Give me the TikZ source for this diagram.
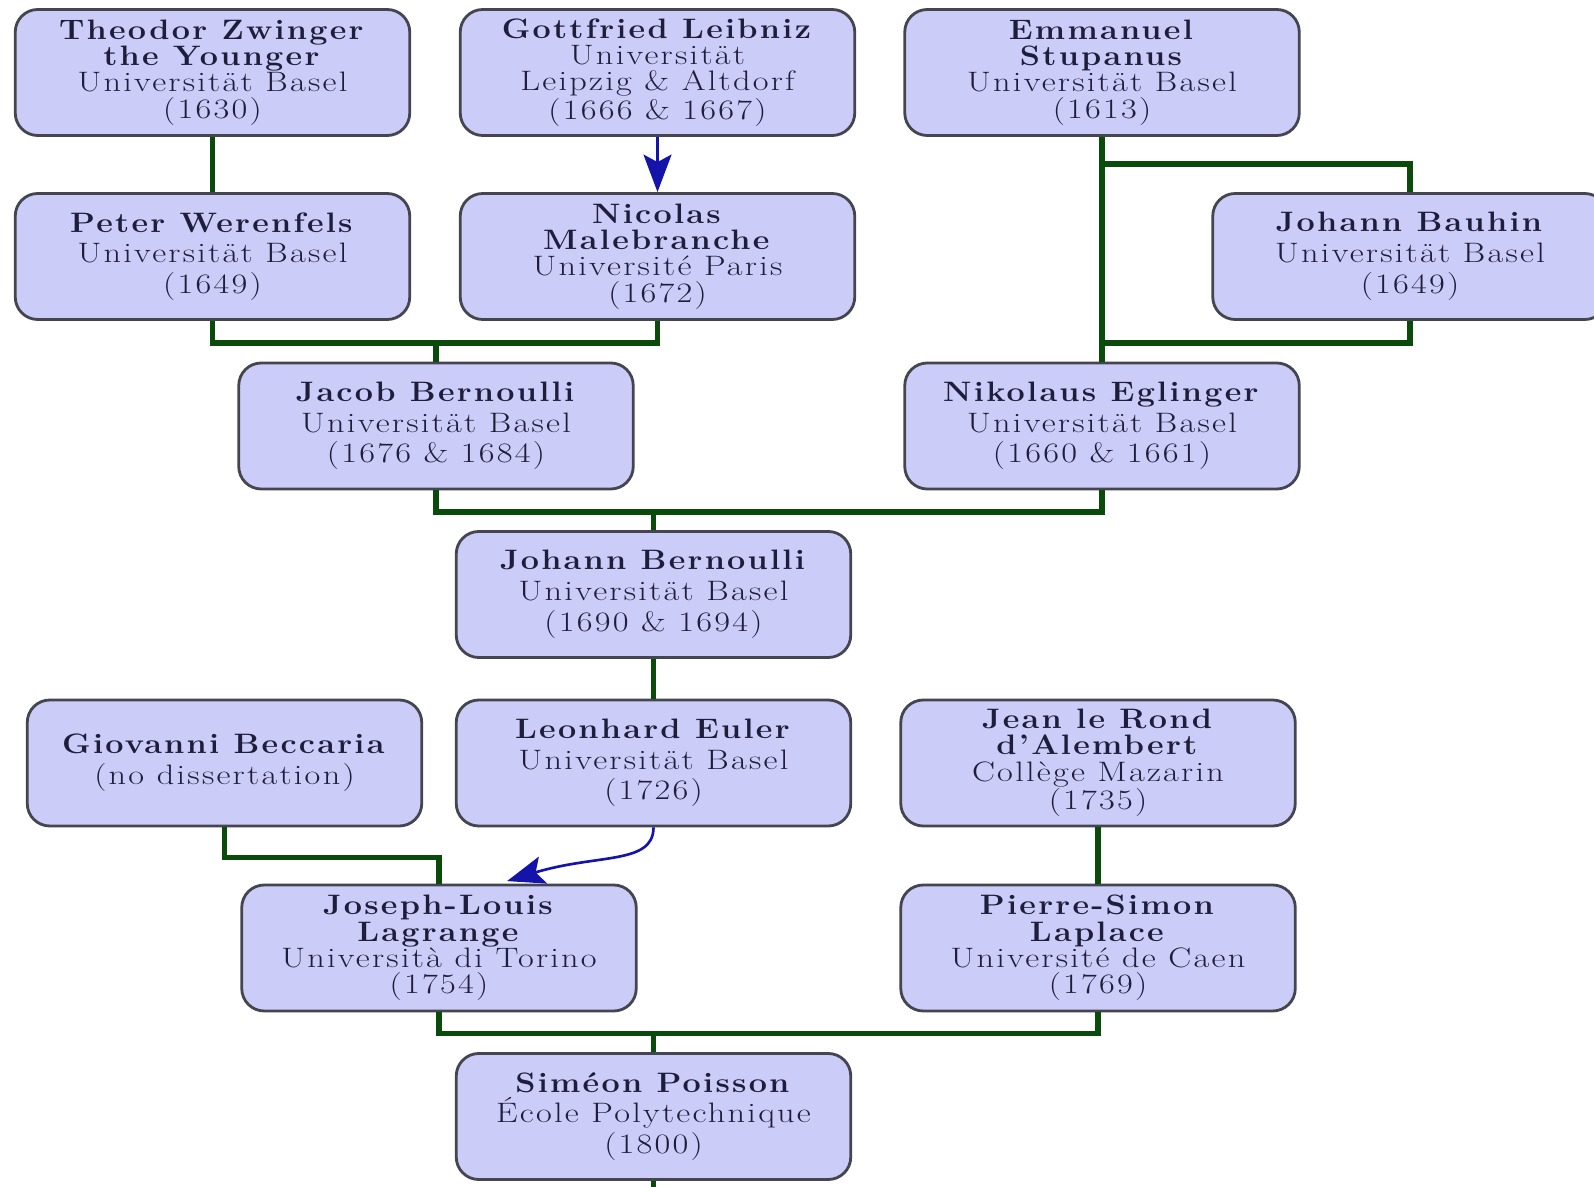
\documentclass[tikz,border=0pt]{standalone}
\usepackage{fontspec}
\setmainfont{Latin Modern Roman}[FakeStretch=1.22,LetterSpace=8,BoldFeatures={FakeStretch=1.15}]
\usetikzlibrary{calc, arrows.meta, positioning}
\definecolor{phdfill}{HTML}{CCCCF8}
\definecolor{phdedge}{HTML}{45454F}
\definecolor{phdtext}{HTML}{1E1E3C}
\definecolor{lineagegreen}{HTML}{0A4A0A}
\definecolor{advisorblue}{HTML}{1414AA}

\begin{document}
\begin{tikzpicture}[
        >={Stealth[length=7.5mm, width=5.6mm, inset=1.5mm]},
        person/.style={draw=phdedge, line width=1.6pt, fill=phdfill, rounded corners=0.45cm,
            minimum width=7.89cm, minimum height=2.52cm, align=center, text=phdtext,
            font=\fontsize{16}{17.5}\selectfont, inner sep=1pt},
        tight/.style={person, font=\fontsize{16}{15}\selectfont},
        lineage/.style={draw=lineagegreen, line width=3.2pt},
        advisor/.style={draw=advisorblue, line width=1.5pt, ->}
    ]
    % page frame
    \useasboundingbox (0,0) rectangle (31.88,23.72);

    % oldest generation
    \node[tight] (zwinger) at (4.25,22.27) {\textbf{Theodor Zwinger}\\\textbf{the Younger}\\Universität Basel\\(1630)};
    \node[tight] (leibniz) at (13.15,22.27) {\textbf{Gottfried Leibniz}\\Universität\\Leipzig \& Altdorf\\(1666 \& 1667)};
    \node[tight] (stupanus) at (22.04,22.27) {\textbf{Emmanuel}\\\textbf{Stupanus}\\Universität Basel\\(1613)};

    \node[person] (werenfels) at (4.25,18.59) {\textbf{Peter Werenfels}\\Universität Basel\\(1649)};
    \node[tight] (malebranche) at (13.15,18.59) {\textbf{Nicolas}\\\textbf{Malebranche}\\Université Paris\\(1672)};
    \node[person] (bauhin) at (28.20,18.59) {\textbf{Johann Bauhin}\\Universität Basel\\(1649)};

    \node[person] (jacob) at (8.72,15.20) {\textbf{Jacob Bernoulli}\\Universität Basel\\(1676 \& 1684)};
    \node[person] (eglinger) at (22.04,15.20) {\textbf{Nikolaus Eglinger}\\Universität Basel\\(1660 \& 1661)};

    \node[person] (johann) at (13.07,11.83) {\textbf{Johann Bernoulli}\\Universität Basel\\(1690 \& 1694)};

    \node[person] (beccaria) at (4.49,8.46) {\textbf{Giovanni Beccaria}\\(no dissertation)};
    \node[person] (euler) at (13.07,8.46) {\textbf{Leonhard Euler}\\Universität Basel\\(1726)};
    \node[tight] (dalembert) at (21.96,8.46) {\textbf{Jean le Rond}\\\textbf{d'Alembert}\\Collège Mazarin\\(1735)};

    \node[tight] (lagrange) at (8.78,4.76) {\textbf{Joseph-Louis}\\\textbf{Lagrange}\\Università di Torino\\(1754)};
    \node[tight] (laplace) at (21.96,4.76) {\textbf{Pierre-Simon}\\\textbf{Laplace}\\Université de Caen\\(1769)};

    \node[person] (poisson) at (13.07,1.39) {\textbf{Siméon Poisson}\\École Polytechnique\\(1800)};
    \coordinate (next) at (13.07,-0.2);

    % advisor lines
    \draw[lineage] (zwinger) -- (werenfels);
    \draw[advisor] (leibniz) -- (malebranche);
    \draw[lineage] (stupanus.south) -- ++(0,-0.54) -| (bauhin.north);
    \draw[lineage] (eglinger.north) -- (stupanus.south);
    \draw[lineage] (bauhin.south) -- ++(0,-0.44) -| (eglinger.north);

    \draw[lineage] (werenfels.south) -- ++(0,-0.44) -| (malebranche.south);
    \draw[lineage] (jacob.north) -- ++(0,0.43);

    \draw[lineage] (jacob.south) -- ++(0,-0.43) -| (eglinger.south);
    \draw[lineage] (johann.north) -- ++(0,0.42);

    \draw[lineage] (johann) -- (euler);
    \draw[lineage] (beccaria.south) -- ++(0,-0.60) -| (lagrange.north);
    \draw[advisor] (euler.south) .. controls +(0,-0.75) and +(1.8,0.55) .. ($(lagrange.north)+(1.36,0.05)$);
    \draw[lineage] (dalembert) -- (laplace);

    \draw[lineage] (lagrange.south) -- ++(0,-0.42) -| (laplace.south);
    \draw[lineage] (poisson.north) -- ++(0,0.43);
    \draw[lineage] (poisson.south) -- (next);
\end{tikzpicture}
\end{document}
